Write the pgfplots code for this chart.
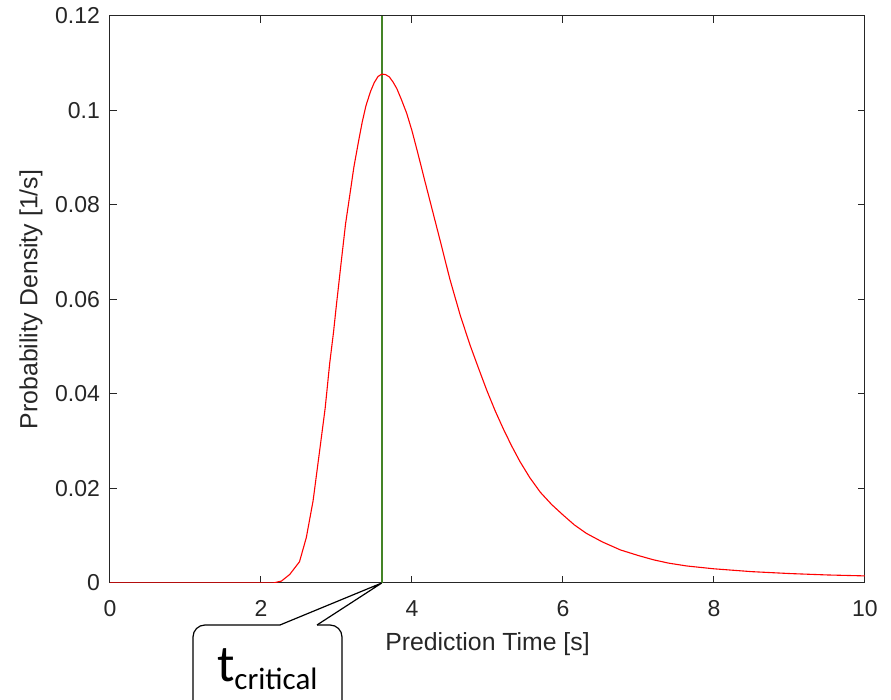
\documentclass[border=0pt]{standalone}
\usepackage{pgfplots}
\pgfplotsset{compat=1.18}
\usepackage{fontspec}
\setmainfont{Liberation Sans}
\newfontfamily\calibri{Carlito}
\usetikzlibrary{calc}

\definecolor{axgray}{RGB}{38,38,38}
\definecolor{mlgreen}{RGB}{68,132,38}

\begin{document}
\begin{tikzpicture}
\begin{axis}[
    width=377.5pt, height=283.5pt, scale only axis,
    xmin=0, xmax=10, ymin=0, ymax=0.12,
    xtick={0,2,4,6,8,10},
    xticklabels={0,2,4,6,8,10},
    ytick={0,0.02,0.04,0.06,0.08,0.1,0.12},
    yticklabels={0,0.02,0.04,0.06,0.08,0.1,0.12},
    scaled y ticks=false,
    tick align=inside,
    major tick length=3.5pt,
    axis line style={axgray, line width=0.5pt},
    tick style={axgray, line width=0.5pt},
    tick label style={font=\fontsize{11.5}{13}\selectfont, text=axgray},
    xticklabel style={yshift=-5.2pt},
    yticklabel style={xshift=-1.5pt},
    xlabel={Prediction Time [s]},
    ylabel={Probability Density [1/s]},
    label style={font=\fontsize{12.4}{14}\selectfont, text=axgray},
    xlabel style={at={(axis description cs:0.5,-0.1182)}, anchor=base, inner sep=0pt},
    ylabel style={at={(axis description cs:-0.0887,0.5)}, anchor=south, inner sep=0pt},
]
\addplot[mlgreen, line width=0.8pt] coordinates {(3.6,0) (3.6,0.12)};
\addplot[red, line width=0.55pt, line join=round] coordinates {
    (0,0) (2.16,0) (2.27,0.0004) (2.38,0.0018) (2.51,0.0045) (2.60,0.0096)
    (2.69,0.0174) (2.78,0.0284) (2.85,0.0370) (2.91,0.0465) (2.96,0.0530)
    (3.00,0.0590) (3.07,0.0690) (3.12,0.0760) (3.18,0.0825) (3.23,0.0880)
    (3.29,0.0933) (3.34,0.0975) (3.39,0.1010) (3.45,0.1040) (3.50,0.1059)
    (3.55,0.1072) (3.60,0.1077) (3.65,0.1076) (3.70,0.1071) (3.75,0.1060)
    (3.80,0.1046) (3.86,0.1023) (3.93,0.0994) (4.00,0.0957) (4.08,0.0908)
    (4.17,0.0851) (4.26,0.0795) (4.39,0.0714) (4.50,0.0644) (4.64,0.0566)
    (4.77,0.0503) (4.88,0.0455) (4.99,0.0408) (5.10,0.0365) (5.21,0.0326)
    (5.32,0.0290) (5.43,0.0257) (5.56,0.0223) (5.70,0.0192) (5.85,0.0166)
    (6.00,0.0144) (6.15,0.0123) (6.31,0.0105) (6.52,0.0087) (6.76,0.0070)
    (7.00,0.0058) (7.20,0.0049) (7.40,0.0042) (7.64,0.0036) (8.00,0.0030)
    (8.50,0.0024) (9.00,0.0020) (9.50,0.0017) (10,0.0015)
};
\coordinate (SW) at (rel axis cs:0,0);
\coordinate (NE) at (rel axis cs:1,1);
\coordinate (tip) at (axis cs:3.6,0);
\end{axis}

% callout box
\draw[line width=0.6pt, rounded corners=6pt]
    ($(SW)+(85pt,-21pt)$) -- ($(SW)+(41.5pt,-21pt)$) -- ($(SW)+(41.5pt,-95pt)$);
\draw[line width=0.6pt, rounded corners=6pt]
    ($(SW)+(103.5pt,-21pt)$) -- ($(SW)+(116pt,-21pt)$) -- ($(SW)+(116pt,-95pt)$);
\draw[line width=0.6pt, line join=miter]
    ($(SW)+(85pt,-21pt)$) -- (tip) -- ($(SW)+(103.5pt,-21pt)$);
\node[anchor=base west, inner sep=0pt, font=\calibri] at ($(SW)+(53.3pt,-49.4pt)$)
    {\fontsize{26}{28}\selectfont t\raisebox{-4pt}{\fontsize{15.5}{17}\selectfont critical}};

\pgfresetboundingbox
\path[use as bounding box] ($(SW)+(-55pt,-58.5pt)$) rectangle ($(NE)+(13pt,8pt)$);
\end{tikzpicture}
\end{document}
